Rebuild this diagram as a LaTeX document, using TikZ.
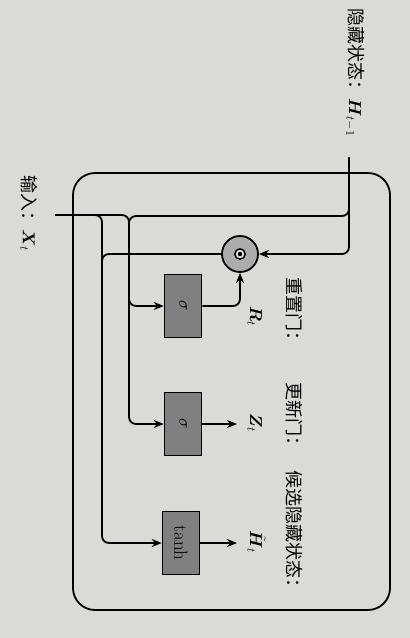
\documentclass[tikz,border=0pt]{standalone}
\usepackage{amsmath}
\usepackage{fontspec}
\newfontfamily\cjk{Noto Sans CJK SC}
\usetikzlibrary{arrows.meta}
\definecolor{paper}{RGB}{218,218,215}
\definecolor{boxgray}{RGB}{128,128,128}
\definecolor{circgray}{RGB}{172,172,172}
\begin{document}
\begin{tikzpicture}[x=1pt,y=-1pt,
  wire/.style={line width=1.8pt, rounded corners=7pt},
  arr/.style={wire, -{Stealth[length=10pt,width=8pt]}},
  gatebox/.style={draw, line width=1.5pt, fill=boxgray, minimum width=37pt, minimum height=63pt, inner sep=0pt},
  gatecirc/.style={draw, circle, line width=1.8pt, fill=circgray, minimum size=36pt, inner sep=0pt},
  lbl/.style={rotate=-90, inner sep=0pt, anchor=base west, font=\cjk\fontsize{18}{20}\selectfont},
  mlbl/.style={rotate=-90, inner sep=0pt, anchor=base west, font=\fontsize{17}{20}\selectfont},
  inlbl/.style={rotate=-90, inner sep=0pt, font=\fontsize{19}{22}\selectfont},
]
\fill[paper] (0,0) rectangle (410,638);
\useasboundingbox (0,0) rectangle (410,638);

% cell frame
\node[draw, line width=1.8pt, rounded corners=22pt, minimum width=317pt, minimum height=437pt, inner sep=0pt] (cell) at (231.5,391.5) {};

% gates
\node[gatebox] (rg) at (183,306) {};
\node[inlbl] (rgt) at (rg) {$\sigma$};
\node[gatebox] (zg) at (183,424) {};
\node[inlbl] (zgt) at (zg) {$\sigma$};
\node[gatebox] (tg) at (181,543) {};
\node[inlbl] (tgt) at (tg) {tanh};

% hadamard product
\node[gatecirc] (odot) at (240,254) {};
\draw[line width=1.4pt, fill=circgray!40] (odot.center) circle (5.2pt);
\fill (odot.center) circle (2.2pt);

% inputs
\coordinate (hin) at (349,157);
\coordinate (xin) at (55,215);
\coordinate (zout) at (237,424);
\coordinate (hout) at (237,543);

% H_{t-1} paths
\draw[arr] (hin) -- (349,254) -- (odot.east);
\draw[arr] (hin) -- (349,216) -- (129,216) -- (129,306) -- (rg.west);
% X_t paths
\draw[arr] (xin) -- (129,215) -- (129,424) -- (zg.west);
\draw[arr] (xin) -- (102,215) -- (102,543) -- (tg.west);
% reset product to tanh
\draw[wire] (odot.west) -- (102,254) -- (102,300);
% outputs
\draw[arr] (rg.east) -- (240,306) -- (odot.south);
\draw[arr] (zg.east) -- (zout);
\draw[arr] (tg.east) -- (hout);

% labels
\node[lbl] (hl) at (349,8) {隐藏状态：$\boldsymbol{H}_{t-1}$};
\node[lbl] (xl) at (23,175) {输入：$\boldsymbol{X}_t$};
\node[lbl] (rl) at (287,277) {重置门：};
\node[lbl] (zl) at (287,382) {更新门：};
\node[lbl] (cl) at (287,470) {候选隐藏状态：};
\node[mlbl] (rt) at (250,306) {$\boldsymbol{R}_t$};
\node[mlbl] (zt) at (250,413) {$\boldsymbol{Z}_t$};
\node[mlbl] (ht) at (250,530) {$\tilde{\boldsymbol{H}}_t$};
\end{tikzpicture}
\end{document}
